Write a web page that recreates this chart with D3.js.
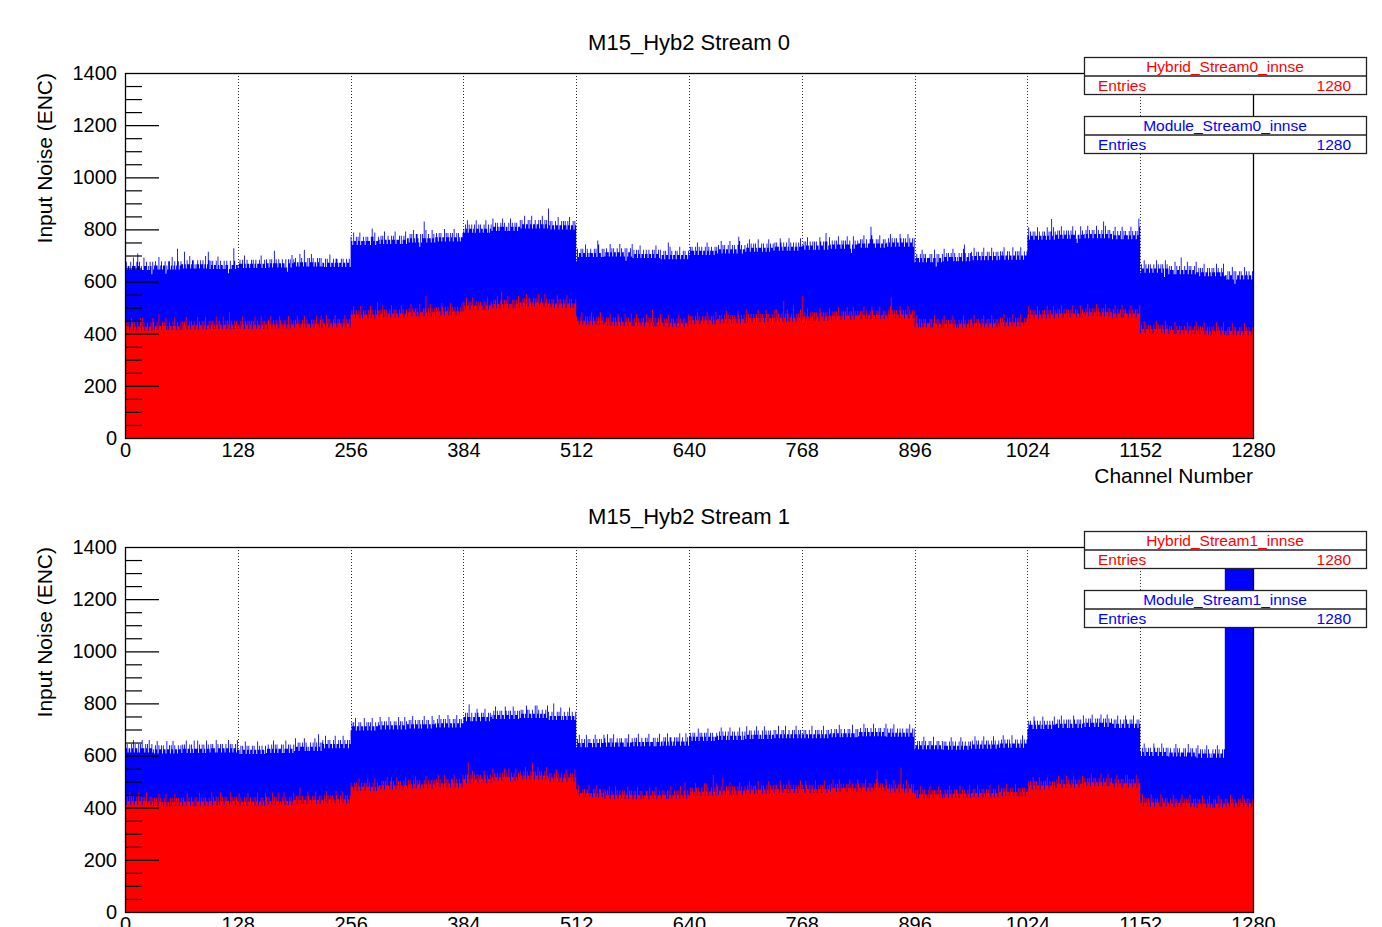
<!DOCTYPE html>
<html>
<head>
<meta charset="utf-8">
<script src="https://cdn.jsdelivr.net/npm/d3@7"></script>
<style>
  body { margin: 0; background: #fff; }
  svg { display: block; }
  text { font-family: "Liberation Sans", Arial, Helvetica, sans-serif; }
</style>
</head>
<body>
<svg id="chart" width="1382" height="927"></svg>
<script>
// ---- data -------------------------------------------------------------
const nChannels = 1280;
const chipSize = 128;
const groupSize = 32;                 // channels per level step
const channelTicks = [0, 128, 256, 384, 512, 640, 768, 896, 1024, 1152, 1280];
const gridChannels = [128, 256, 384, 512, 640, 768, 896, 1024, 1152];
const noiseMax = 1400;
const noiseMajor = [0, 200, 400, 600, 800, 1000, 1200, 1400];
const noiseMinor = [50, 100, 150, 250, 300, 350, 450, 500, 550, 650, 700, 750,
  850, 900, 950, 1050, 1100, 1150, 1250, 1300, 1350];
const panelTitles = ["M15_Hyb2 Stream 0", "M15_Hyb2 Stream 1"];
const hybridNames = ["Hybrid_Stream0_innse", "Hybrid_Stream1_innse"];
const moduleNames = ["Module_Stream0_innse", "Module_Stream1_innse"];
const jitterStep = 16;                // ENC per digit of channel jitter (digit 4 = 0)

// noise level per 32-channel group (ENC)
const moduleLevel0 = [660, 662, 666, 664, 668, 670, 674, 672, 756, 760, 766, 770,
  803, 810, 820, 816, 710, 712, 706, 702, 718, 724, 730, 734, 738, 742, 746, 750,
  690, 694, 698, 700, 776, 780, 782, 778, 650, 644, 636, 624];
const hybridLevel0 = [428, 430, 432, 434, 434, 436, 438, 440, 474, 478, 482, 486,
  508, 514, 520, 516, 450, 446, 444, 442, 452, 456, 460, 462, 466, 470, 472, 474,
  440, 438, 440, 444, 474, 478, 482, 478, 418, 414, 412, 410];
const moduleLevel1 = [628, 624, 626, 628, 622, 626, 634, 644, 712, 716, 720, 724,
  748, 756, 760, 752, 648, 650, 652, 654, 672, 676, 680, 682, 682, 686, 690, 688,
  640, 638, 642, 646, 718, 722, 726, 722, 614, 612, 608, 1900];
const hybridLevel1 = [426, 422, 424, 426, 424, 426, 430, 432, 480, 486, 490, 494,
  510, 518, 524, 516, 456, 450, 448, 450, 462, 466, 470, 472, 472, 476, 478, 474,
  452, 454, 456, 460, 486, 492, 498, 494, 420, 418, 416, 418];

// channel-by-channel jitter, one row per 128-channel chip
const moduleJitter0 = [
  "4534435346443574 5343364453435425 3454436345344524 3553463453485345 4437435446345534 3454354453463475 3545344536435443 5345423534485344",
  "3454453643544345 4534534454634453 5443545347454354 4354435325453645 4534436454374435 3546453443545353 4435354463445345 5434453544354453",
  "5436445354634454 3545443575463445 4354536443544354 5463444535345463 4435453643554325 3548463454436453 4543545344635454 3545364453543445",
  "4354635445345364 4535443546435345 3644535434546453 4435364543545344 5354463445354634 4534453546435453 8453544354463445 3545435463445354",
  "2534453544635434 5443545376443535 3454436453544354 4635443525344536 3544535463445345 4354435453644535 3445354473645344 5354463445354435",
  "3545443546354453 4453645345443545 3544635453445364 4535443576453445 3454635445354364 4453544354635445 3545443654354453 4635445345435464",
  "4453546435445353 5443654453575346 4354453546443545 3546445324635445 4453546435344586 5443545463445354 4354635445354436 5445354463544535",
  "3454435463545344 4535346425354435 3644535445463543 4354453675344535 5436445354435463 4453544635445354 3545463445354436 4453545364435445",
  "4635445354463544 3545436453584635 4453546435445354 3546445324436454 4354635445354463 5443547364453544 3546435445363545 4435463544535486",
  "3544635445354435 4463544535426454 3545443635445374 4354463545344536 4453545463445354 3545436454435463 4435354463525344 5354436454354435"
];
const hybridJitter0 = [
  "3545434653544354 4636453445344536 5344537443545463 4354435464354435 3545463445354453 4463544535463445 3545343645354436 4453547354435453",
  "4435464354453545 3546435443645354 4355463454354436 5443545346435445 3546453445364354 4435453546443563 5443645354435464 3545443546354453",
  "4546435445364354 5443546354435475 3544635453445364 4535443546453445 3454635445354364 4453584354635445 3545443654354453 4635445345435464",
  "5436445354634454 3545443535463445 4354536443574354 5463444535345463 4435453643554345 3545463454436453 4543545344635454 3545364453543445",
  "5443546344535435 4635443545364453 4453546344535436 5435443645354463 4354635443545346 4453547435344536 5443545463445354 4354635445354436",
  "4535443546453445 3454635445354364 4453544354635445 3545443654354453 4635445345435464 3545434653544354 4636453445384536 5344537443545463",
  "9445346435445353 5443654453545346 4354453546443545 3546445354635445 4453546435344536 5443545463445354 4354685445354436 5445354463544535",
  "3464353543545344 4535346445354435 3644535445463543 4354453645344535 5436445354435463 4453544635445354 3545463445354436 4453545364435445",
  "4635445354463544 3545436453544635 4453546435445354 3546445354436454 4354635445354463 5443545364453544 3546435445363545 4435463544535446",
  "3544635445354435 4463544535436454 3545443635445354 4354463545344536 4453545463445354 3545436454435463 4435354463545344 5354436454354435"
];
const moduleJitter1 = [
  "5453443546354435 3546443545364453 4354635445354436 4453546354435445 3545463445354364 4463544535436454 3545443635445354 4354463545344536",
  "4435354463545344 5354436454354435 3454435463545344 4535346445354435 3644535445463543 4354453645374535 5436445354435463 4453544635445354",
  "3545463445354436 4453545364435445 4635445354463544 3545436453544635 4453546435445354 3546445354436454 4354635445354463 5443545364453544",
  "4453547435344536 5443545463445354 4354635445354436 5445354463544535 3545434653544354 4636453445344536 5344537443545463 4354435464354435",
  "3546435445363545 4435463544535446 5436445354634454 3545443535463445 4354536443544354 5463444535345463 4435453643554345 3545463454436453",
  "4543545344635454 3545364453543445 4354635445345364 4535443546435345 3644535434546453 4435364543545344 5354463445354634 4534453546435453",
  "4453544354463445 3545435463445354 4534453544635434 5443545346443535 3454436453544354 4635443545344536 3544535463445345 4354435453644535",
  "3445354453645344 5354463445354435 3545443546354453 4453645345443545 3544635453445364 4535443546453445 3454635445354364 4453544354635445",
  "3545443654354453 4635445345435464 4453546435445353 5443654453545346 4354453546443545 3546445354635445 4453546435344536 5443545463445354",
  "4354635445354436 5445354463544535 3454435463545344 4535346445354435 3644535445463543 4354453645344535 4444444444444444 4444444444444444"
];
const hybridJitter1 = [
  "4354463545344536 4453545463445354 3545436454435463 4435354463545344 5354436454354435 3544635445354435 4463544535436454 3545443635445354",
  "4635443545364453 4453546344535436 5435443645354463 4354635443545346 4453547435344536 5443545463445354 4354635445354436 5443546344535435",
  "5443545346435445 3546453445364354 4435453546443563 5443645354435464 3545443546354453 4435464354453545 3546435443645354 4355463454354436",
  "4453584354635445 3545443654354453 4635445345435464 4546435445364354 5443546354435475 3544635453445364 4535443546453445 3454635445354364",
  "5463444535345463 4435453643554345 3545463454436453 4543545344635454 3545364453543445 5436445354634454 3545443535463445 4354536443574354",
  "3545434653544354 4636453445384536 5344537443545463 4535443546453445 3454635445354364 4453544354635445 3545443654354453 4635445345435464",
  "5443654453545346 4354453546443545 3546445354635445 4453546435344536 5443545463445354 4354685445354436 5445354463544535 9445346435445353",
  "4535346445354435 3644535445463543 4354453645344535 5436445354435463 4453544635445354 3545463445354436 4453545364435445 3464353543545344",
  "3545436453544635 4453546435445354 3546445354436454 4354635445354463 5443545364453544 3546435445363545 4435463544535446 4635445354463544",
  "4463544535436454 3545443635445354 4354463545344536 4453545463445354 3545436454435463 4435354463545344 5354436454354435 3544635445354435"
];

// ---- build per-channel values ----------------------------------------
function channelValues(levels, jitterRows) {
  const rows = jitterRows.map(r => r.replace(/\s/g, ""));
  const values = [];
  for (let c = 0; c < nChannels; c++) {
    const row = rows[Math.floor(c / chipSize)];
    const digit = +row[(c % chipSize) % row.length];
    values.push(levels[Math.floor(c / groupSize)] + (digit - 4) * jitterStep);
  }
  return values;
}

const panels = [
  { title: panelTitles[0], hybrid: channelValues(hybridLevel0, hybridJitter0),
    module: channelValues(moduleLevel0, moduleJitter0),
    hybridName: hybridNames[0], moduleName: moduleNames[0] },
  { title: panelTitles[1], hybrid: channelValues(hybridLevel1, hybridJitter1),
    module: channelValues(moduleLevel1, moduleJitter1),
    hybridName: hybridNames[1], moduleName: moduleNames[1] }
];

// ---- drawing ----------------------------------------------------------
const svg = d3.select("#chart");
const panelHeight = 474;
const frame = { left: 125, right: 1253, top: 73, bottom: 438 };
const hybridColor = "#ff0000";
const moduleColor = "#0000ff";
const intFmt = d3.format("d");

const x = d3.scaleLinear().domain([0, nChannels]).range([frame.left, frame.right]);
const y = d3.scaleLinear().domain([0, noiseMax]).range([frame.bottom, frame.top]);

const histArea = d3.area()
  .curve(d3.curveStepAfter)
  .x((d, i) => x(i))
  .y0(y(0))
  .y1(d => y(Math.min(d, noiseMax)));

panels.forEach((p, i) => {
  const g = svg.append("g").attr("transform", `translate(0,${i * panelHeight})`);

  g.append("clipPath").attr("id", "plot-clip-" + i)
    .append("rect")
    .attr("x", frame.left).attr("y", frame.top)
    .attr("width", frame.right - frame.left).attr("height", frame.bottom - frame.top);

  // dotted chip boundaries
  g.append("g").selectAll("line").data(gridChannels).join("line")
    .attr("x1", d => Math.round(x(d)) + 0.5).attr("x2", d => Math.round(x(d)) + 0.5)
    .attr("y1", frame.top).attr("y2", frame.bottom)
    .attr("stroke", "#333").attr("stroke-width", 1).attr("stroke-dasharray", "1 2");

  // histograms: module behind, hybrid in front
  const plot = g.append("g").attr("clip-path", `url(#plot-clip-${i})`);
  [[p.module, moduleColor], [p.hybrid, hybridColor]].forEach(([vals, col]) => {
    plot.append("path")
      .datum(vals.concat([vals[vals.length - 1]]))
      .attr("d", histArea)
      .attr("fill", col)
      .attr("stroke", "none");
  });

  // y ticks (inside the frame)
  const tickMajor = g.append("g").attr("transform", `translate(${frame.left},0)`)
    .call(d3.axisRight(y).tickValues(noiseMajor).tickSize(34).tickFormat(""));
  const tickMinor = g.append("g").attr("transform", `translate(${frame.left},0)`)
    .call(d3.axisRight(y).tickValues(noiseMinor).tickSize(17).tickFormat(""));
  [tickMajor, tickMinor].forEach(t => {
    t.select(".domain").remove();
    t.selectAll("line").attr("stroke", "#000").attr("stroke-width", 1.2);
  });

  // y tick labels
  const yLab = g.append("g").attr("transform", `translate(${frame.left},0)`)
    .call(d3.axisLeft(y).tickValues(noiseMajor).tickSize(0).tickPadding(8).tickFormat(intFmt));
  yLab.select(".domain").remove();
  yLab.selectAll("text").attr("font-size", 20).attr("fill", "#000")
    .style("font-family", '"Liberation Sans", Arial, sans-serif');

  // x tick labels
  const xLab = g.append("g").attr("transform", `translate(0,${frame.bottom})`)
    .call(d3.axisBottom(x).tickValues(channelTicks).tickSize(0).tickPadding(5).tickFormat(intFmt));
  xLab.select(".domain").remove();
  xLab.selectAll("text").attr("font-size", 20).attr("fill", "#000")
    .style("font-family", '"Liberation Sans", Arial, sans-serif');

  // frame
  g.append("rect")
    .attr("x", frame.left + 0.5).attr("y", frame.top + 0.5)
    .attr("width", frame.right - frame.left).attr("height", frame.bottom - frame.top)
    .attr("fill", "none").attr("stroke", "#000").attr("stroke-width", 1.3);

  // titles
  g.append("text").attr("x", 689).attr("y", 50).attr("text-anchor", "middle")
    .attr("font-size", 22).text(p.title);
  g.append("text").attr("x", frame.right).attr("y", 483).attr("text-anchor", "end")
    .attr("font-size", 21).text("Channel Number");
  g.append("text").attr("transform", `translate(52,${frame.top}) rotate(-90)`)
    .attr("text-anchor", "end").attr("font-size", 21).text("Input Noise (ENC)");

  // stats boxes
  const boxes = [
    { top: 57.5, name: p.hybridName, n: p.hybrid.length, color: hybridColor },
    { top: 116.5, name: p.moduleName, n: p.module.length, color: moduleColor }
  ];
  boxes.forEach(b => {
    const bx = 1084.5, bw = 282, bh = 37;
    const bg = g.append("g");
    bg.append("rect").attr("x", bx).attr("y", b.top).attr("width", bw).attr("height", bh)
      .attr("fill", "#fff").attr("stroke", "#222").attr("stroke-width", 1.3);
    bg.append("line").attr("x1", bx).attr("x2", bx + bw)
      .attr("y1", b.top + 18.5).attr("y2", b.top + 18.5)
      .attr("stroke", "#222").attr("stroke-width", 1.3);
    bg.append("text").attr("x", 1225).attr("y", b.top + 14).attr("text-anchor", "middle")
      .attr("font-size", 15.5).attr("fill", b.color).text(b.name);
    bg.append("text").attr("x", 1098).attr("y", b.top + 33.5)
      .attr("font-size", 15.5).attr("fill", b.color).text("Entries");
    bg.append("text").attr("x", 1351).attr("y", b.top + 33.5).attr("text-anchor", "end")
      .attr("font-size", 15.5).attr("fill", b.color).text(b.n);
  });
});
</script>
</body>
</html>
